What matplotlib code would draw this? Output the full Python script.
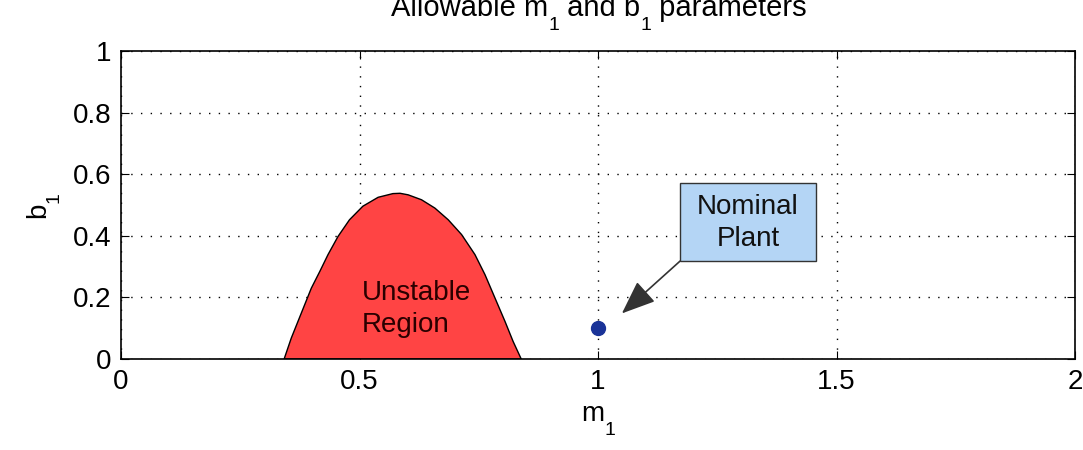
import matplotlib
matplotlib.use("Agg")
import matplotlib.pyplot as plt
from matplotlib.patches import Rectangle
from matplotlib.transforms import IdentityTransform

plt.rcParams["font.family"] = ["Liberation Sans", "DejaVu Sans"]

# boundary of the unstable region
region_m = [0.342, 0.357, 0.371, 0.385, 0.399, 0.417, 0.434, 0.455, 0.479, 0.507,
            0.539, 0.570, 0.585, 0.602, 0.630, 0.658, 0.686, 0.714, 0.742, 0.763,
            0.784, 0.805, 0.822, 0.839]
region_b = [0.0, 0.068, 0.122, 0.176, 0.230, 0.285, 0.339, 0.398, 0.452, 0.496,
            0.525, 0.537, 0.538, 0.533, 0.517, 0.490, 0.452, 0.404, 0.339, 0.274,
            0.198, 0.122, 0.057, 0.0]

# nominal plant
nominal_m = [1.0]
nominal_b = [0.1]

x_ticks = [0, 0.5, 1, 1.5, 2]
y_ticks = [0, 0.2, 0.4, 0.6, 0.8, 1]
x_labels = ["0", "0.5", "1", "1.5", "2"]
y_labels = ["0", "0.2", "0.4", "0.6", "0.8", "1"]

FS = 20
SUB_FS = 14
SUB_DROP = 14  # pixels, matlab-style low subscripts


def sub_text(fig, x, y, pieces, rotation=0, fs=FS):
    """draw text with matlab-like subscripts, centred at pixel (x, y) baseline"""
    r = fig.canvas.get_renderer()
    objs = []
    total = 0
    for s, sub in pieces:
        t = fig.text(0, 0, s, fontsize=SUB_FS if sub else fs, transform=IdentityTransform(),
                     rotation=rotation, ha="left", va="baseline", rotation_mode="anchor")
        bb = t.get_window_extent(r)
        w = bb.height if rotation else bb.width
        objs.append((t, w, sub))
        total += w
    pos = -total / 2
    for t, w, sub in objs:
        d = SUB_DROP if sub else 0
        if rotation:
            t.set_position((x + d, y + pos))
        else:
            t.set_position((x + pos, y - d))
        pos += w


fig = plt.figure(figsize=(10.83, 4.5), dpi=100)
ax = fig.add_axes([0.1117, 0.2022, 0.881, 0.6845])

ax.fill(region_m, region_b, facecolor="#ff4444", edgecolor="black", linewidth=1, zorder=2)
ax.text(0.505, 0.162, "Unstable\nRegion", fontsize=FS, ha="left", va="center",
        color="#2a0000", linespacing=1.3, zorder=3)

ax.plot(nominal_m, nominal_b, "o", color="#1a3398", markersize=10, zorder=4)

# annotation box + arrow
ax.add_patch(Rectangle((1.172, 0.318), 0.285, 0.253, facecolor="#b4d5f5",
                       edgecolor="#333333", lw=1, zorder=5))
ax.text(1.314, 0.442, "Nominal\nPlant", fontsize=FS, ha="center", va="center",
        linespacing=1.3, color="#111111", zorder=6)
ax.annotate("", xy=(1.05, 0.148), xytext=(1.172, 0.318),
            arrowprops=dict(arrowstyle="-|>,head_length=1.5,head_width=0.6",
                            color="#333333", lw=1.2, shrinkA=0, shrinkB=0,
                            mutation_scale=14),
            zorder=5)

ax.set_xlim(0, 2)
ax.set_ylim(0, 1)
ax.set_xticks(x_ticks)
ax.set_yticks(y_ticks)
ax.set_xticklabels(x_labels)
ax.set_yticklabels(y_labels)
ax.tick_params(direction="in", length=6, labelsize=FS, top=True, right=True, pad=7)
ax.grid(True, linestyle=(0, (1, 6)), color="black", linewidth=1)
for s in ax.spines.values():
    s.set_linewidth(1.2)

H = 450
sub_text(fig, 598, H - 421, [("m", False), ("1", True)])
sub_text(fig, 45, H - 205, [("b", False), ("1", True)], rotation=90)
sub_text(fig, 599, H - 16, [("Allowable m", False), ("1", True), (" and b", False),
                            ("1", True), (" parameters", False)], fs=21)

fig.savefig("out.png", dpi=100)
